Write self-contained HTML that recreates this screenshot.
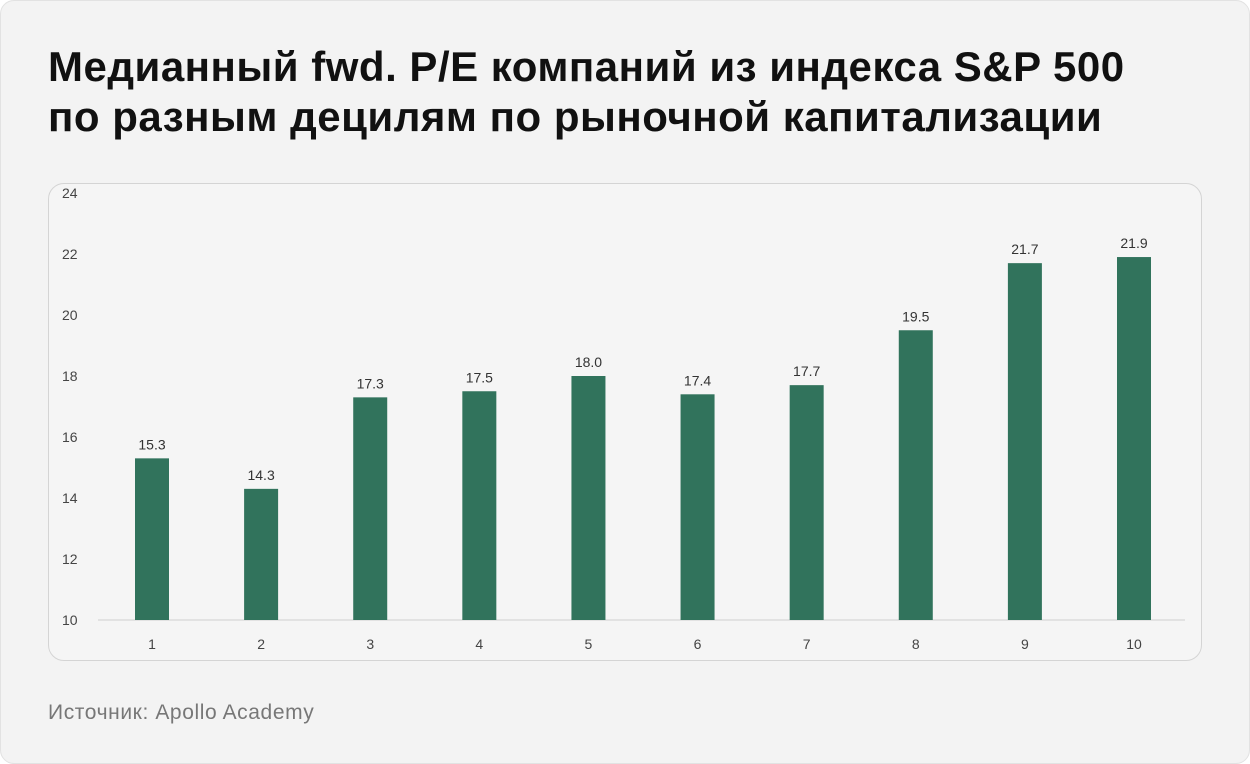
<!DOCTYPE html>
<html><head><meta charset="utf-8"><style>
body{margin:0;width:1250px;height:764px;background:#fff;font-family:"Liberation Sans","DejaVu Sans",sans-serif;}
#card{position:absolute;left:0;top:0;width:1248px;height:762px;border:1px solid #e2e2e2;border-radius:14px;background:#f3f3f3;}
#title{position:absolute;left:48px;top:42px;font-size:42px;font-weight:bold;line-height:50px;color:#111;letter-spacing:0.5px;white-space:nowrap;}
#chartbox{position:absolute;left:48px;top:183px;width:1152px;height:476px;border:1px solid #d4d4d4;border-radius:16px;background:#f5f5f5;}
#src{position:absolute;left:48px;top:701px;font-size:21px;color:#777;letter-spacing:0.6px;}
svg{position:absolute;left:0;top:0;}
</style></head><body>
<div id="card"></div>
<div id="title">Медианный fwd. P/E компаний из индекса S&amp;P 500<br>по разным децилям по рыночной капитализации</div>
<div id="chartbox"></div>
<div id="src">Источник: Apollo Academy</div>
<svg id="chart" width="1250" height="764"></svg>
<script>
const categories=["1","2","3","4","5","6","7","8","9","10"];
const values=[15.3,14.3,17.3,17.5,18.0,17.4,17.7,19.5,21.7,21.9];
const yTicks=[10,12,14,16,18,20,22,24];
const svg=document.getElementById('chart');
const NS='http://www.w3.org/2000/svg';
const y=v=>620-(v-10)*(620-193)/14;
const x=i=>152+i*(1134-152)/9;
function mk(t,a,txt){const e=document.createElementNS(NS,t);for(const k in a)e.setAttribute(k,a[k]);if(txt!==undefined)e.textContent=txt;svg.appendChild(e);return e;}
yTicks.forEach(t=>{
const e=mk('text',{x:62,y:y(t)+5,'font-size':14,fill:'#444','font-family':'Liberation Sans, sans-serif'},t);


});
const base=mk('line',{x1:98,x2:1185,y1:620,y2:620,stroke:'#d0d0d0','stroke-width':1});


categories.forEach((c,i)=>{
const v=values[i];
const r=mk('rect',{x:x(i)-17,y:y(v),width:34,height:620-y(v),fill:'#31735c'});


const l=mk('text',{x:x(i),y:y(v)-9,'text-anchor':'middle','font-size':14,fill:'#333','font-family':'Liberation Sans, sans-serif'},v.toFixed(1));


const t=mk('text',{x:x(i),y:649,'text-anchor':'middle','font-size':14,fill:'#444','font-family':'Liberation Sans, sans-serif'},c);


});
</script>
</body></html>
